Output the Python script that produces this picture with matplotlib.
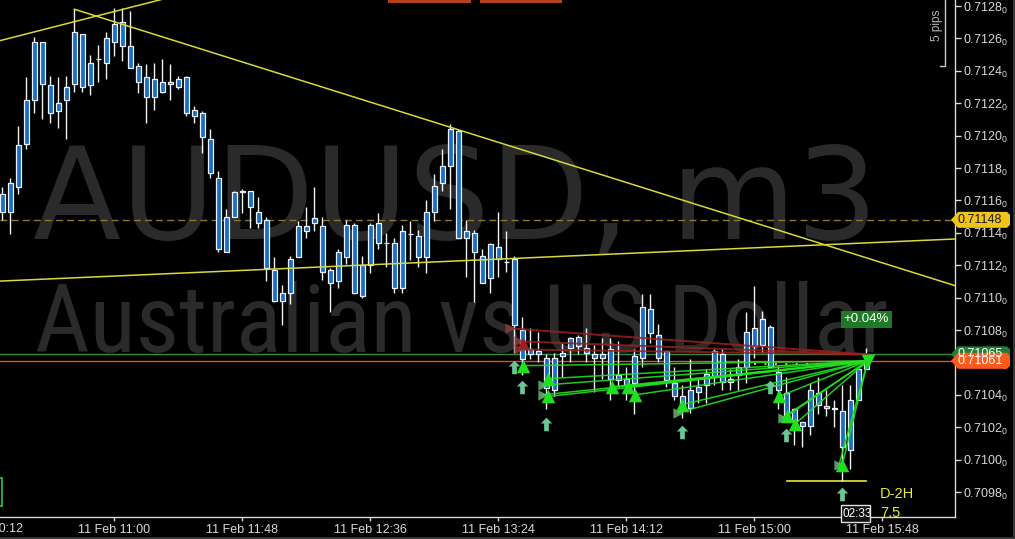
import numpy as np
import matplotlib
matplotlib.use("Agg")
import matplotlib.pyplot as plt
from matplotlib.path import Path
from matplotlib.patches import Polygon, Rectangle
from matplotlib.transforms import IdentityTransform
from matplotlib import font_manager

# ---------------- data (prices in points, 1e-5) ----------------
first_index = -14          # bar index of first visible candle (index 0 = 11 Feb 11:00, 3-minute bars)
opens = [71153, 71153, 71168, 71195, 71222, 71258, 71231, 71215, 71222, 71232,
         71263, 71231, 71247, 71245, 71258, 71270, 71255, 71243, 71236, 71224,
         71233, 71232, 71230, 71236, 71216, 71214, 71198, 71174, 71128, 71150,
         71165, 71166, 71153, 71148, 71117, 71098, 71103, 71125, 71141, 71146,
         71144, 71117, 71110, 71125, 71145, 71101, 71120, 71146, 71134, 71134,
         71106, 71139, 71138, 71125, 71153, 71171, 71181, 71203, 71137, 71140,
         71126, 71112, 71124, 71122, 71124, 71080, 71065, 71067, 71063, 71043,
         71064, 71069, 71076, 71069, 71065, 71063, 71068, 71052, 71046, 71047,
         71063, 71093, 71077, 71067, 71047, 71039, 71032, 71042, 71046, 71051,
         71065, 71048, 71052, 71057, 71081, 71071, 71082, 71054, 71041, 71031,
         71023, 71021, 71041, 71033, 71032, 71030, 71006, 71037, 71056]
highs = [71168, 71174, 71206, 71236, 71261, 71258, 71237, 71236, 71237, 71278,
         71263, 71250, 71256, 71264, 71279, 71279, 71277, 71245, 71244, 71245,
         71247, 71244, 71237, 71237, 71218, 71215, 71204, 71178, 71155, 71166,
         71167, 71166, 71162, 71150, 71125, 71108, 71126, 71147, 71156, 71168,
         71150, 71118, 71130, 71148, 71146, 71126, 71146, 71152, 71140, 71137,
         71145, 71147, 71142, 71160, 71176, 71192, 71207, 71204, 71148, 71142,
         71130, 71134, 71153, 71141, 71126, 71088, 71081, 71079, 71065, 71066,
         71072, 71076, 71077, 71081, 71071, 71075, 71075, 71073, 71057, 71068,
         71102, 71102, 71084, 71067, 71057, 71046, 71062, 71050, 71056, 71068,
         71068, 71056, 71062, 71091, 71107, 71092, 71083, 71058, 71051, 71032,
         71023, 71047, 71051, 71043, 71037, 71046, 71046, 71056, 71069]
lows = [71148, 71139, 71164, 71192, 71214, 71210, 71208, 71205, 71198, 71227,
        71227, 71225, 71233, 71235, 71249, 71246, 71242, 71226, 71208, 71216,
        71226, 71222, 71229, 71212, 71208, 71189, 71174, 71128, 71128, 71150,
        71152, 71143, 71143, 71110, 71097, 71083, 71096, 71125, 71137, 71141,
        71111, 71091, 71106, 71121, 71102, 71100, 71115, 71130, 71119, 71103,
        71103, 71123, 71119, 71115, 71147, 71166, 71155, 71137, 71113, 71097,
        71109, 71103, 71113, 71116, 71066, 71052, 71062, 71060, 71031, 71039,
        71051, 71060, 71065, 71060, 71042, 71050, 71037, 71045, 71037, 71028,
        71057, 71072, 71060, 71045, 71037, 71026, 71029, 71035, 71035, 71046,
        71043, 71043, 71043, 71047, 71063, 71066, 71057, 71031, 71023, 71009,
        71008, 71015, 71028, 71027, 71020, 70987, 70994, 71037, 71056]
closes = [71164, 71171, 71194, 71222, 71258, 71232, 71214, 71220, 71230, 71264,
          71230, 71245, 71247, 71260, 71269, 71255, 71242, 71233, 71224, 71235,
          71227, 71233, 71235, 71214, 71212, 71199, 71177, 71130, 71150, 71165,
          71166, 71156, 71146, 71118, 71098, 71103, 71124, 71144, 71144, 71149,
          71116, 71109, 71128, 71145, 71103, 71120, 71145, 71134, 71134, 71106,
          71141, 71139, 71125, 71153, 71169, 71181, 71204, 71137, 71141, 71128,
          71109, 71133, 71131, 71122, 71083, 71062, 71068, 71065, 71044, 71063,
          71066, 71075, 71070, 71066, 71063, 71065, 71050, 71049, 71050, 71064,
          71094, 71078, 71063, 71049, 71039, 71032, 71043, 71045, 71053, 71067,
          71048, 71050, 71057, 71079, 71070, 71087, 71057, 71043, 71026, 71024,
          71021, 71043, 71034, 71032, 71031, 71008, 71037, 71056, 71061]

xtick_index = [0, 16, 32, 48, 64, 80, 96]
xtick_labels = ["11 Feb 11:00", "11 Feb 11:48", "11 Feb 12:36", "11 Feb 13:24",
                "11 Feb 14:12", "11 Feb 15:00", "11 Feb 15:48"]
prev_tick_index = -16
prev_tick_label = "11 Feb 10:12"
ytick_values = [0.7098, 0.7100, 0.7102, 0.7104, 0.7106, 0.7108, 0.7110, 0.7112,
                0.7114, 0.7116, 0.7118, 0.7120, 0.7122, 0.7124, 0.7126, 0.7128]

level_dashed = 0.71148      # yellow dashed level
level_ask = 0.71065         # green line
level_bid = 0.71061         # orange line
low_level = 0.70987         # yellow short line (D-2H)
low_level_x = [84.1, 94.0]
dotted_level = 0.71059
dotted_level_x = [80.0, 92.0]

trend_x = [[-14.3, 12.0], [-5.0, 110.0], [-14.3, 105.1]]
trend_y = [[0.712586, 0.712917], [0.712780, 0.710998], [0.711102, 0.711362]]

buy_x = [51.1, 54.2, 54.2, 62.2, 64.2, 65.1, 71.0, 83.1, 84.1, 85.1, 91.0]
buy_y = [71058, 71050, 71039, 71045, 71045, 71040, 71034, 71039, 71027, 71022, 70997]
side_x = [53.6, 53.6, 70.5, 83.6, 90.6]
side_y = [71046, 71040, 71029, 71026, 70997]
red_side_x = [49.5, 50.6, 50.6]
red_side_y = [71081, 71073, 71068]
arrow_x = [50.0, 51.0, 54.0, 71.0, 82.0, 84.0, 91.0]
arrow_y = [71057, 71045, 71022, 71017, 71045, 71015, 70979]
target_x = 94.2
target_green = 71061
target_red = 71065

pct_label = "+0.04%"
pct_pos = (94.0, 0.710865)

# ---------------- style ----------------
plt.rcParams["font.family"] = ["Liberation Sans", "DejaVu Sans"]
plt.rcParams["mathtext.fontset"] = "custom"
plt.rcParams["mathtext.rm"] = "Liberation Sans"
plt.rcParams["mathtext.default"] = "rm"

W, H = 1015, 539
fig = plt.figure(figsize=(W / 100, H / 100), dpi=100, facecolor="black")
ax = fig.add_axes([0, 22 / H, 955 / W, 517 / H])
ax.set_facecolor("black")

def to_price(a):
    return np.asarray(a, dtype=float) / 1e5

o, h, l, c = map(to_price, (opens, highs, lows, closes))
xi = np.arange(first_index, first_index + len(o))

ax.set_xlim(-14.29, 105.09)
ax.set_ylim(0.709646, 0.712837)

# watermark
def fit(t, width_px):
    r = fig.canvas.get_renderer()
    w = t.get_window_extent(r).width
    t.set_fontsize(t.get_fontsize() * width_px / w)

def first_font(cands):
    for f in cands:
        try:
            font_manager.findfont(font_manager.FontProperties(family=f),
                                  fallback_to_default=False)
            return f, True
        except Exception:
            continue
    return "Liberation Sans", False

wm1 = ax.text(455 / 955, (517 - 239) / 517, "AUDUSD, m3", transform=ax.transAxes,
              ha="center", va="baseline", color="#2a2a2a", fontsize=90,
              family="DejaVu Sans", zorder=0)
fit(wm1, 845)

fam2, narrow = first_font(["Liberation Sans Narrow", "DejaVu Sans Condensed",
                           "Roboto Condensed", "Open Sans Condensed"])
wm2 = ax.text(462 / 955, (517 - 352) / 517, "Australian vs US Dollar", transform=ax.transAxes,
              ha="center", va="baseline", color="#2a2a2a", fontsize=60,
              family=fam2, zorder=0)
fit(wm2, 855)

# horizontal levels
ax.axhline(level_dashed, color="#8c7a2c", lw=1, ls=(0, (5, 3)), zorder=1)
ax.axhline(level_ask, color="#2f8f3f", lw=1, zorder=1)
ax.axhline(level_bid, color="#e0502a", lw=1, zorder=1)
ax.plot(low_level_x, [low_level] * 2, color="#e8e83a", lw=1.2, zorder=2)
ax.plot(dotted_level_x, [dotted_level] * 2, color="#b8c830", lw=1.5, ls=(0, (1, 4)), zorder=2)

# candles
ax.vlines(xi, l, h, color="#f2f2f2", lw=1, zorder=3)
ax.bar(xi, c - o, bottom=o, width=0.6, color="#1b6ec2", edgecolor="#eef4ff",
       linewidth=0.9, zorder=3.5)

# trendlines
for tx, ty in zip(trend_x, trend_y):
    ax.plot(tx, ty, color="#d8d83a", lw=1.1, zorder=4)

# trade lines
for x0, y0 in zip(red_side_x, red_side_y):
    ax.plot([x0, target_x], to_price([y0, target_red]), color="#9a1f1f", lw=1.4,
            alpha=0.85, zorder=5)
for x0, y0 in list(zip(buy_x, buy_y)) + list(zip(side_x, side_y)):
    ax.plot([x0, target_x], to_price([y0, target_green]), color="#22e022", lw=1.1,
            alpha=0.9, zorder=5)

ax.scatter(side_x, to_price(side_y), marker=">", s=55, color="#6fbf7f", alpha=0.8, zorder=6, linewidths=0)
ax.scatter(red_side_x, to_price(red_side_y), marker=">", s=55, color="#8f4040", alpha=0.8, zorder=6, linewidths=0)
ax.scatter([51.1], to_price([71072]), marker="^", s=80, color="#a02020", zorder=6, linewidths=0)
ax.scatter(buy_x, to_price(buy_y), marker="^", s=95, color="#1ee01e", zorder=6, linewidths=0)
ax.scatter([target_x], to_price([target_green]), marker="v", s=95, color="#1ee01e", zorder=6, linewidths=0)

arrow_path = Path([(0, 1), (0.85, 0.15), (0.35, 0.15), (0.35, -1), (-0.35, -1),
                   (-0.35, 0.15), (-0.85, 0.15), (0, 1)],
                  [Path.MOVETO] + [Path.LINETO] * 6 + [Path.CLOSEPOLY])
ax.scatter(arrow_x, to_price(arrow_y), marker=arrow_path, s=95, color="#6ac795",
           zorder=6, linewidths=0)

# +0.04% tag
ax.text(pct_pos[0], pct_pos[1], pct_label, ha="center", va="center", color="white",
        fontsize=9.5, zorder=7,
        bbox=dict(boxstyle="square,pad=0.2", fc="#1f7a25", ec="none"))

# D-2H labels
ax.text(95.7, 0.709785, "D-2H", color="#e8e83a", fontsize=10.5, va="center", ha="left", zorder=7, clip_on=False)
ax.text(95.7, 0.709668, "7.5", color="#e8e83a", fontsize=10.5, va="center", ha="left", zorder=7, clip_on=False)

# axes
for s in ("top", "left"):
    ax.spines[s].set_visible(False)
for s in ("right", "bottom"):
    ax.spines[s].set_color("#d8d8d8")
    ax.spines[s].set_linewidth(1)
ax.yaxis.tick_right()
ax.set_yticks(ytick_values)
ax.set_yticklabels([f"{v:.4f}" + r"$_0$" for v in ytick_values])
ax.tick_params(axis="y", colors="#d8d8d8", length=4, width=1, pad=2, labelsize=9)
ax.set_xticks(xtick_index)
ax.set_xticklabels(xtick_labels)
ax.tick_params(axis="x", colors="#d8d8d8", length=3, width=1, pad=2, labelsize=9)
ax.text(prev_tick_index, -0.012, prev_tick_label, transform=ax.get_xaxis_transform(),
        ha="center", va="top", color="#d8d8d8", fontsize=9, clip_on=False)

# price tags on the right axis
fig.canvas.draw()
def price_px(p):
    return ax.transData.transform((0, p))[1]

def tag(price, fc, tc, text):
    yc = price_px(price)
    pts = [(951, yc), (958, yc + 8), (1007, yc + 8), (1010, yc + 5), (1010, yc - 5),
           (1007, yc - 8), (958, yc - 8)]
    fig.add_artist(Polygon(pts, closed=True, fc=fc, ec="none", transform=IdentityTransform(), zorder=10))
    fig.text(958 / W, yc / H, text, color=tc, fontsize=9, va="center", ha="left", zorder=11)

tag(level_dashed, "#f0c419", "#1a1a1a", "0.71148")
tag(level_ask, "#1f7f35", "white", "0.71065")
tag(level_bid, "#ff5a1e", "white", "0.71061")

# "5 pips" scale
fig.add_artist(plt.Line2D([945 / W, 945 / W, 940 / W], [1, 1 - 66 / H, 1 - 66 / H],
                          color="#c8c8c8", lw=1, transform=fig.transFigure))
fig.text(937 / W, 1 - 25 / H, "5 pips", rotation=90, color="#b8b8b8", fontsize=8.5,
         ha="center", va="center")

# top buttons and left badge
for x0, x1 in ((388, 471), (480, 562)):
    fig.add_artist(Rectangle((x0 / W, 1 - 3 / H), (x1 - x0) / W, 3 / H, fc="#b5401e",
                             ec="none", transform=fig.transFigure))
fig.add_artist(Rectangle((-6 / W, 1 - 506 / H), 8 / W, 28 / H, fc="none", ec="#2aa040",
                         lw=1.5, transform=fig.transFigure))

# countdown box
fig.add_artist(Rectangle((841 / W, 1 - 522 / H), 29 / W, 17 / H, fc="#101010", ec="#e0e0e0",
                         lw=1, transform=fig.transFigure, zorder=12))
fig.text(857 / W, 1 - 514 / H, "02:33", color="white", fontsize=8.5, ha="center",
         va="center", zorder=13)

# frame edges (right and bottom)
fig.add_artist(plt.Line2D([0, 1 - 1.5 / W, 1 - 1.5 / W], [1.5 / H, 1.5 / H, 1],
                          color="#3a3a3a", lw=2, transform=fig.transFigure))

fig.savefig("out.png", dpi=100, facecolor="black")
